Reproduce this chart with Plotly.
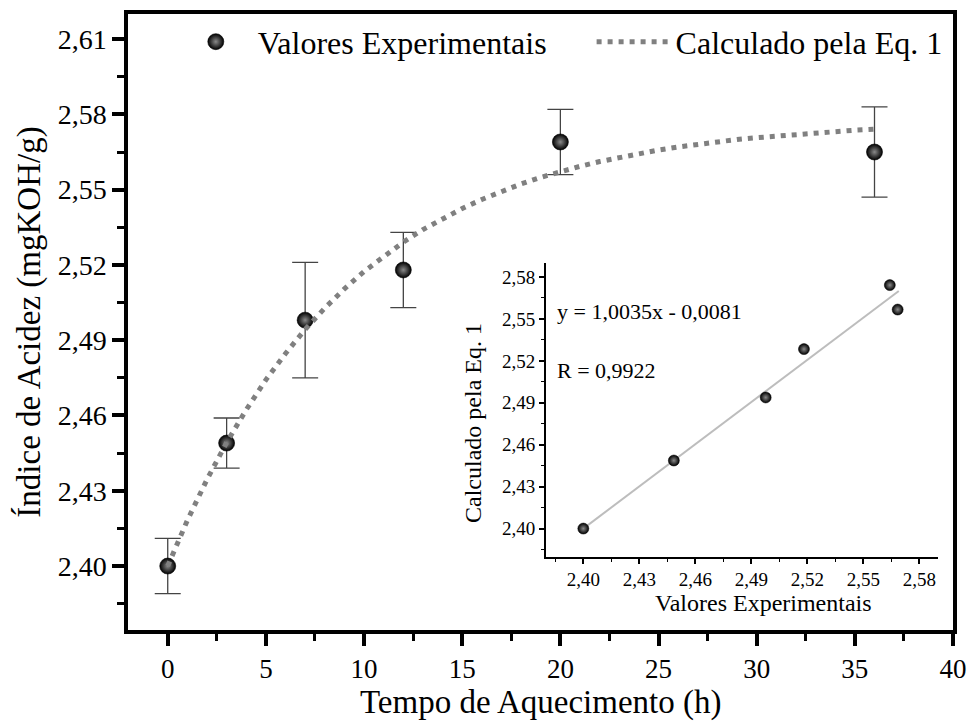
import plotly.graph_objects as go

# ---- main data ----
time_h = [0, 3, 7, 12, 20, 36]
acid_exp = [2.400, 2.449, 2.498, 2.518, 2.569, 2.565]
acid_err = [0.011, 0.010, 0.023, 0.015, 0.013, 0.018]

curve_t = list(range(0, 37))
curve_y = [2.4000, 2.4182, 2.4345, 2.4492, 2.4623, 2.4742, 2.4847, 2.4943, 2.5028,
           2.5105, 2.5174, 2.5235, 2.5291, 2.5341, 2.5385, 2.5425, 2.5461, 2.5494,
           2.5523, 2.5549, 2.5572, 2.5593, 2.5612, 2.5629, 2.5644, 2.5658, 2.5670,
           2.5681, 2.5691, 2.5700, 2.5707, 2.5714, 2.5721, 2.5727, 2.5732, 2.5737,
           2.5741]

# ---- inset data ----
inset_exp = [2.400, 2.4485, 2.4977, 2.5182, 2.5642, 2.5684]
inset_calc = [2.400, 2.4487, 2.4938, 2.5284, 2.5742, 2.5567]
fit_x = [2.398, 2.569]
fit_y = [2.398, 2.570]

FONT = "Liberation Serif, Tinos, Times New Roman, DejaVu Serif, serif"
NBSP = "\u00a0"

fig = go.Figure()

fig.add_trace(go.Scatter(
    x=time_h, y=acid_exp, mode="markers", name="Valores Experimentais" + NBSP * 5,
    marker=dict(size=16, color="black", line=dict(width=0.6, color="black"),
                gradient=dict(type="radial", color="#8a8a8a")),
    error_y=dict(type="data", array=acid_err, visible=True, color="#444444",
                 thickness=1.3, width=13),
    xaxis="x", yaxis="y"))

fig.add_trace(go.Scatter(
    x=curve_t, y=curve_y, mode="lines", name="Calculado pela Eq. 1",
    line=dict(color="#808080", width=5, dash="5px,6px"),
    xaxis="x", yaxis="y"))

fig.add_trace(go.Scatter(
    x=fit_x, y=fit_y, mode="lines", showlegend=False,
    line=dict(color="#bdbdbd", width=2), xaxis="x2", yaxis="y2"))

fig.add_trace(go.Scatter(
    x=inset_exp, y=inset_calc, mode="markers", showlegend=False,
    marker=dict(size=11, color="black", line=dict(width=0.5, color="black"),
                gradient=dict(type="radial", color="#8a8a8a")),
    xaxis="x2", yaxis="y2"))

axis_common = dict(showgrid=False, zeroline=False, color="black",
                   linecolor="black", tickcolor="black", automargin=False)

fig.update_layout(
    template="none",
    width=971, height=722,
    margin=dict(l=0, r=0, t=0, b=0),
    paper_bgcolor="white", plot_bgcolor="rgba(0,0,0,0)",
    separators=",.",
    font=dict(family=FONT, color="black"),
    showlegend=True,
    legend=dict(orientation="h", x=0.179, xanchor="left", y=0.942, yanchor="middle",
                font=dict(family=FONT, size=32, color="black"),
                bgcolor="rgba(0,0,0,0)", itemwidth=74),
    xaxis=dict(**axis_common, domain=[0.1323, 0.9815], range=[-2, 40],
               tick0=0, dtick=5, ticks="outside", ticklen=12, tickwidth=3.5,
               showline=True, linewidth=4, mirror=True,
               tickfont=dict(family=FONT, size=27, color="black"),
               minor=dict(dtick=2.5, ticks="outside", ticklen=7, tickwidth=3,
                          tickcolor="black"),
               title=dict(text="Tempo de Aquecimento (h)", standoff=0,
                          font=dict(family=FONT, size=33, color="black")),
               anchor="y"),
    yaxis=dict(**axis_common, domain=[0.1274, 0.9806], range=[2.3745, 2.62],
               tick0=2.40, dtick=0.03, tickformat=".2f",
               ticks="outside", ticklen=12, tickwidth=3.5,
               showline=True, linewidth=4, mirror=True,
               tickfont=dict(family=FONT, size=28, color="black"),
               minor=dict(dtick=0.015, ticks="outside", ticklen=7, tickwidth=3,
                          tickcolor="black"),
               title=dict(text="Índice de Acidez (mgKOH/g)", standoff=8,
                          font=dict(family=FONT, size=33, color="black")),
               anchor="x"),
    xaxis2=dict(**axis_common, domain=[0.5623, 0.966], range=[2.38, 2.59],
                tick0=2.40, dtick=0.03, tickformat=".2f",
                ticks="outside", ticklen=5, tickwidth=1.5,
                showline=True, linewidth=2, mirror=False,
                tickfont=dict(family=FONT, size=19, color="black"),
                minor=dict(dtick=0.015, ticks="outside", ticklen=3, tickwidth=1.2,
                           tickcolor="black"),
                anchor="y2"),
    yaxis2=dict(**axis_common, domain=[0.2292, 0.6357], range=[2.38, 2.59],
                tick0=2.40, dtick=0.03, tickformat=".2f",
                ticks="outside", ticklen=5, tickwidth=1.5,
                showline=True, linewidth=2, mirror=False,
                tickfont=dict(family=FONT, size=19, color="black"),
                minor=dict(dtick=0.015, ticks="outside", ticklen=3, tickwidth=1.2,
                           tickcolor="black"),
                anchor="x2"),
)

ann_font = dict(family=FONT, color="black")
fig.add_annotation(text="Valores Experimentais", xref="paper", yref="paper",
                   x=0.7865, y=0.165, showarrow=False, xanchor="center", yanchor="middle",
                   font=dict(**ann_font, size=24))
fig.add_annotation(text="Calculado pela Eq. 1", xref="paper", yref="paper",
                   x=0.4871, y=0.4141, showarrow=False, textangle=-90,
                   xanchor="center", yanchor="middle", font=dict(**ann_font, size=24))
fig.add_annotation(text="y = 1,0035x - 0,0081", xref="paper", yref="paper",
                   x=0.5716, y=0.5679, showarrow=False, xanchor="left", yanchor="middle",
                   font=dict(**ann_font, size=22))
fig.add_annotation(text="R = 0,9922", xref="paper", yref="paper",
                   x=0.5716, y=0.4875, showarrow=False, xanchor="left", yanchor="middle",
                   font=dict(**ann_font, size=22))

fig.write_html("out.html")
